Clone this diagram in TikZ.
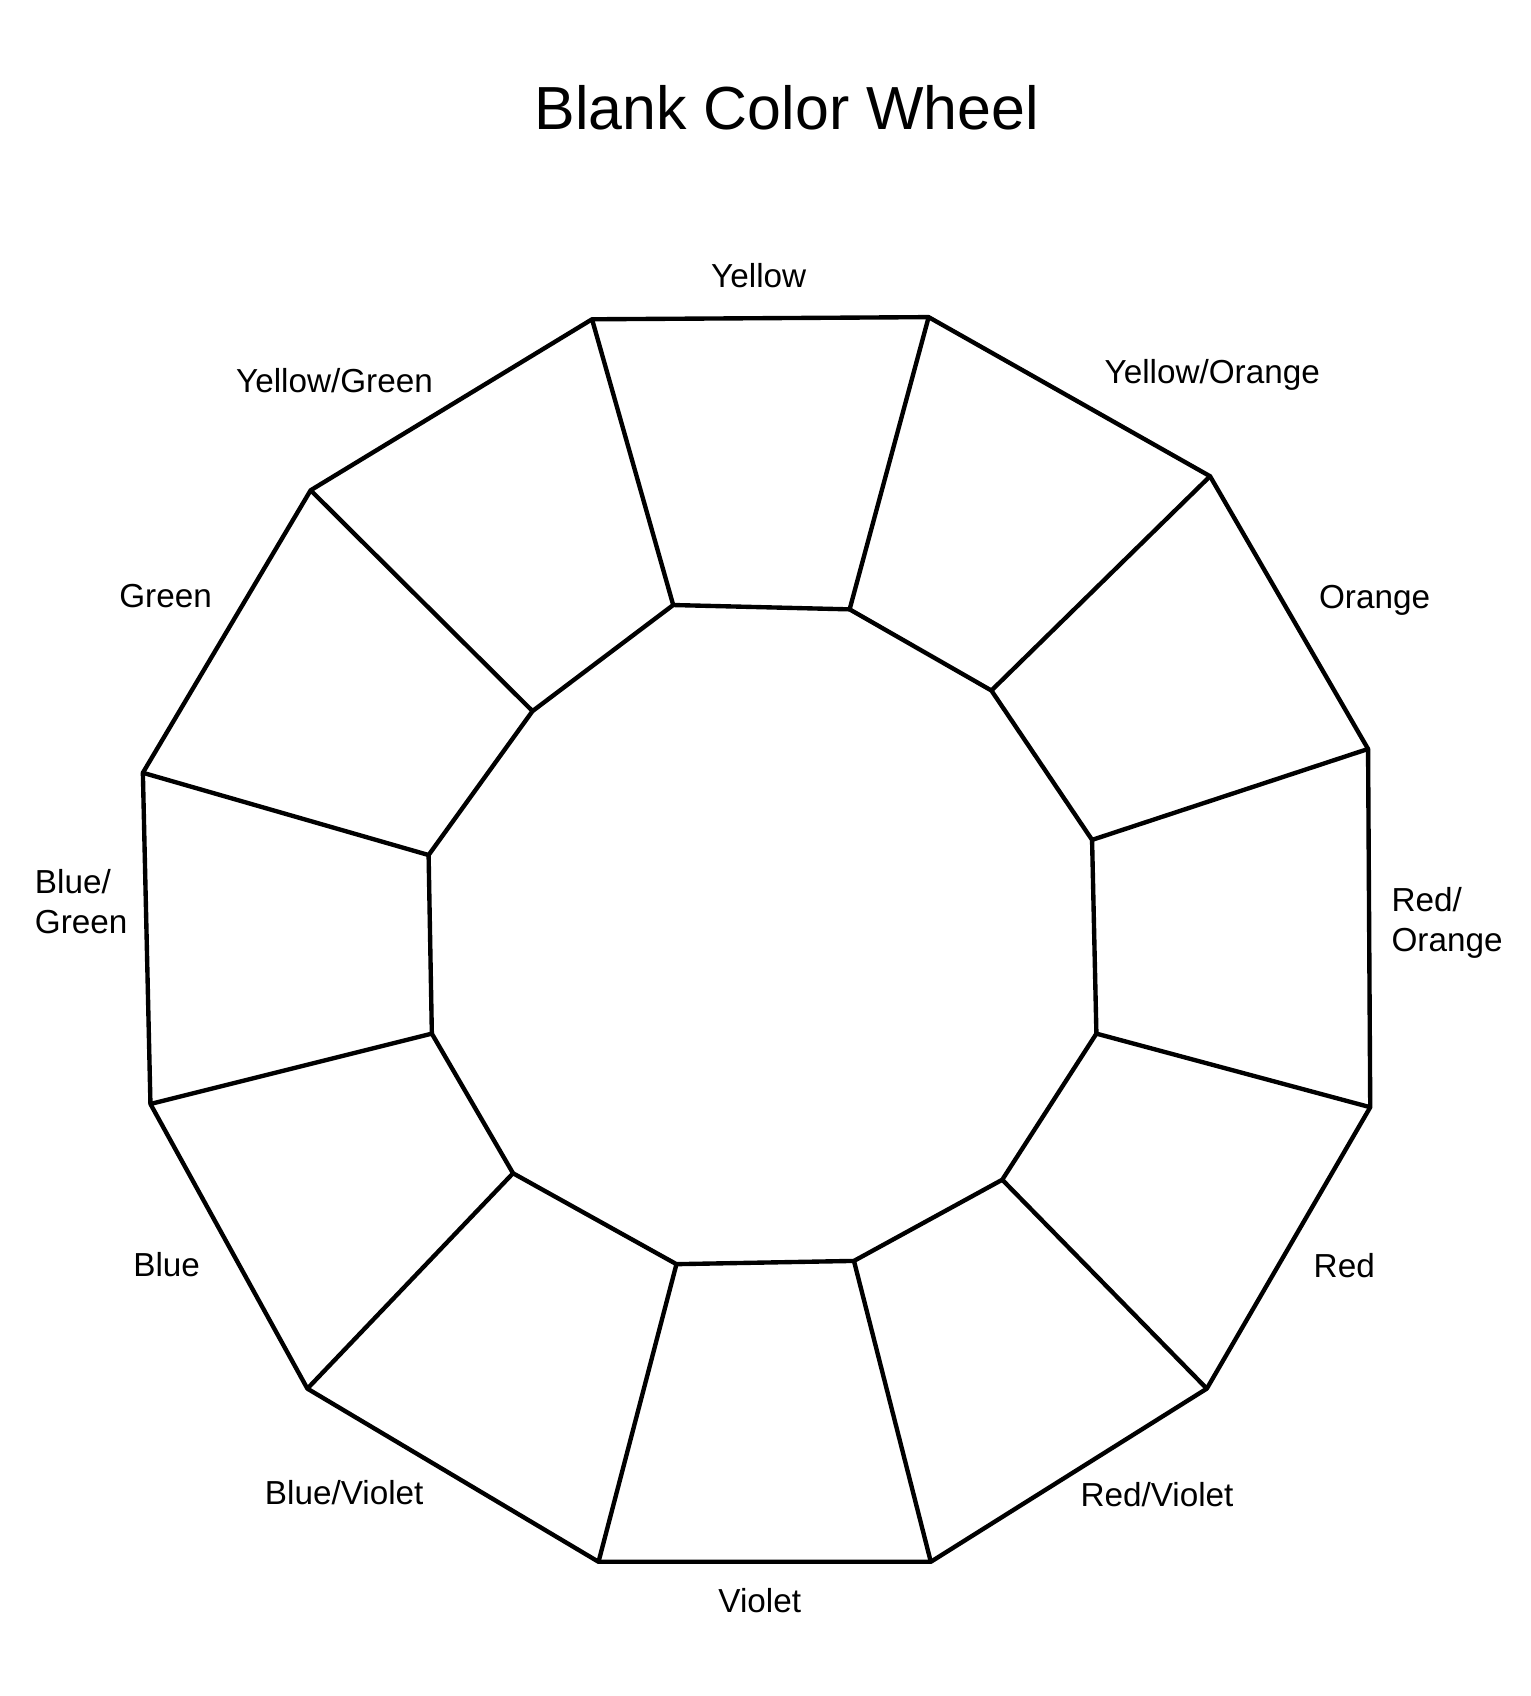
\documentclass[tikz,border=0pt]{standalone}
\usepackage{fontspec}
\setmainfont{Liberation Sans}
\tikzset{%
  ring/.style  = {line width=2.3pt, line join=round},%
  hue/.style   = {font=\fontsize{17.5}{21}\selectfont, align=left},%
  title/.style = {font=\fontsize{32}{38}\selectfont}%
}
\begin{document}
\begin{tikzpicture}[x=0.02cm, y=-0.02cm]
  \useasboundingbox (0,0) rectangle (1414,1567);
  \node[title] (title) at (727,100) {Blank Color Wheel};
  % outer and inner corners
  \foreach \n/\p in {0/{547,295},1/{858,293},2/{1118,440},3/{1264,692},4/{1266,1023},5/{1115,1283},
                     6/{860,1443},7/{553,1443},8/{284,1283},9/{139,1020},10/{132,714},11/{287,453}}
    \coordinate (o\n) at (\p);
  \foreach \n/\p in {0/{622,559},1/{785,563},2/{916,638},3/{1009,776},4/{1013,955},5/{926,1090},
                     6/{789,1165},7/{625,1168},8/{474,1084},9/{399,955},10/{396,790},11/{492,657}}
    \coordinate (i\n) at (\p);
  \draw[ring] (o0) \foreach \n in {1,...,11}{-- (o\n)} -- cycle;
  \draw[ring] (i0) \foreach \n in {1,...,11}{-- (i\n)} -- cycle;
  \foreach \n in {0,...,11}
    \draw[ring] (o\n) -- (i\n);
  % labels
  \node[hue] (yellow)   at (701,255)  {Yellow};
  \node[hue] (yorange)  at (1120,346) {Yellow/Orange};
  \node[hue] (orange)   at (1270,555) {Orange};
  \node[hue] (rorange)  at (1337,853) {Red/\\Orange};
  \node[hue] (red)      at (1242,1169) {Red};
  \node[hue] (rviolet)  at (1069,1381) {Red/Violet};
  \node[hue] (violet)   at (702,1479) {Violet};
  \node[hue] (bviolet)  at (318,1379) {Blue/Violet};
  \node[hue] (blue)     at (154,1168) {Blue};
  \node[hue] (bgreen)   at (75,833)   {Blue/\\Green};
  \node[hue] (green)    at (153,551)  {Green};
  \node[hue] (ygreen)   at (309,352)  {Yellow/Green};
\end{tikzpicture}
\end{document}
